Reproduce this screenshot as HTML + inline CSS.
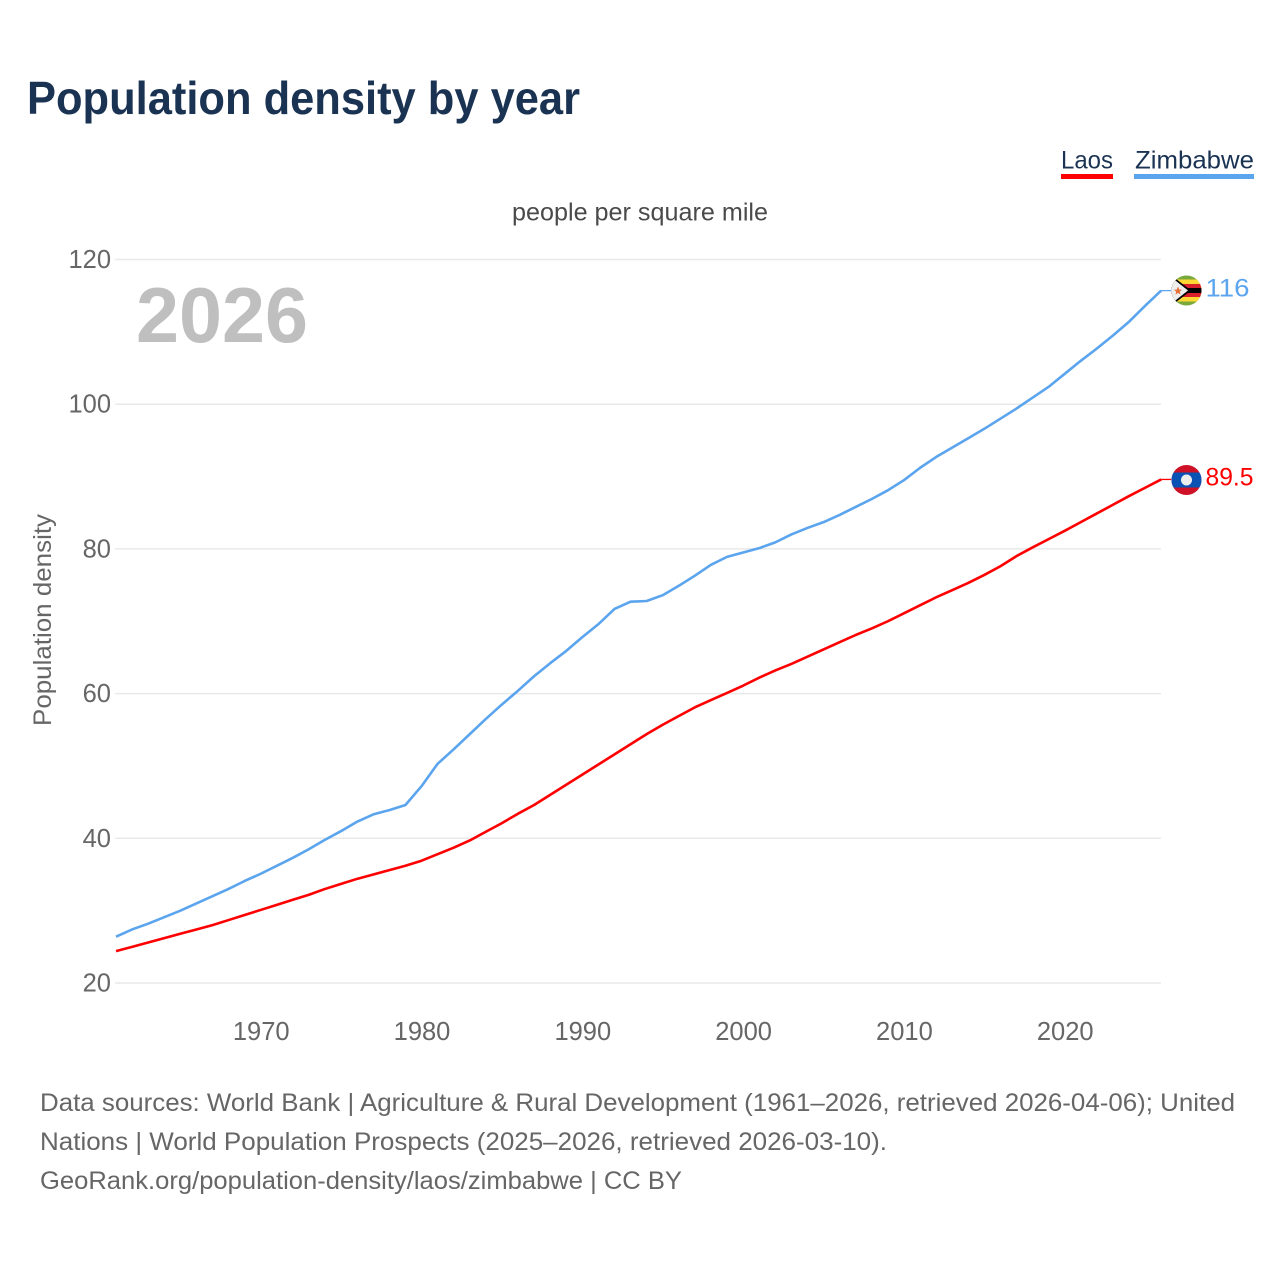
<!DOCTYPE html>
<html lang="en">
<head>
<meta charset="utf-8">
<title>Population density by year</title>
<style>
html,body{margin:0;padding:0;background:#fff;width:1280px;height:1280px;overflow:hidden}
svg{display:block}
text{font-family:"Liberation Sans",sans-serif}
</style>
</head>
<body>
<svg id="chart" xmlns="http://www.w3.org/2000/svg" width="1280" height="1280" viewBox="0 0 1280 1280">
  <defs>
    <clipPath id="clip-zim"><circle cx="1186.5" cy="290.5" r="15"/></clipPath>
    <clipPath id="clip-laos"><circle cx="1186.5" cy="480" r="15"/></clipPath>
  </defs>
  <rect x="0" y="0" width="1280" height="1280" fill="#fff"/>
  <text x="27" y="114" font-size="46" font-weight="700" fill="#1a3353" textLength="553" lengthAdjust="spacingAndGlyphs">Population density by year</text>

  <g>
    <g>
      <text x="1061" y="168.5" font-size="25" fill="#1a3353" textLength="52" lengthAdjust="spacingAndGlyphs">Laos</text>
      <rect x="1061" y="174" width="52" height="5" fill="#ff0000"/>
    </g>
    <g>
      <text x="1135" y="168.5" font-size="25" fill="#1a3353" textLength="119" lengthAdjust="spacingAndGlyphs">Zimbabwe</text>
      <rect x="1134" y="174" width="120" height="5" fill="#5ba4ee"/>
    </g>
  </g>

  <text x="512" y="220.5" font-size="25" fill="#4a4a4a" textLength="256" lengthAdjust="spacingAndGlyphs">people per square mile</text>

  <g id="grid"></g>
  <g id="yticks"></g>
  <g id="xticks"></g>

  <text transform="translate(51,620) rotate(-90)" text-anchor="middle" font-size="25" fill="#666666" textLength="212" lengthAdjust="spacingAndGlyphs">Population density</text>

  <text x="136" y="342" font-size="78" font-weight="700" fill="#bfbfbf" textLength="172" lengthAdjust="spacingAndGlyphs">2026</text>

  <g id="series"></g>

  <g clip-path="url(#clip-zim)">
    <rect x="1171" y="275" width="32" height="31" fill="#79a83b"/>
    <rect x="1171" y="279.5" width="32" height="22" fill="#fdd835"/>
    <rect x="1171" y="284" width="32" height="13" fill="#d8202c"/>
    <rect x="1171" y="288" width="32" height="5" fill="#000"/>
    <polygon points="1171,275 1191,290.5 1171,306" fill="#000"/>
    <polygon points="1171,277 1188,290.5 1171,304" fill="#eeeeee"/>
    <polygon points="1178,286.5 1179.2,289.5 1182,289.8 1179.8,291.8 1180.5,294.5 1178,293 1175.5,294.5 1176.2,291.8 1174,289.8 1176.8,289.5" fill="#e8703a"/>
  </g>
  <g clip-path="url(#clip-laos)">
    <rect x="1171" y="464" width="32" height="32" fill="#ce1126"/>
    <rect x="1171" y="472.5" width="32" height="15" fill="#0b52b5"/>
    <circle cx="1186.5" cy="480" r="5.5" fill="#eeeeee"/>
  </g>
  <text id="end-label-zimbabwe" x="1205.5" y="296.5" font-size="25" fill="#5ba4ee" textLength="44" lengthAdjust="spacingAndGlyphs">116</text>
  <text id="end-label-laos" x="1205.5" y="485.5" font-size="25" fill="#ff0000" textLength="48" lengthAdjust="spacingAndGlyphs">89.5</text>

  <g>
    <text x="40" y="1111" font-size="25" fill="#666666" textLength="1195" lengthAdjust="spacingAndGlyphs">Data sources: World Bank | Agriculture &amp; Rural Development (1961–2026, retrieved 2026-04-06); United</text>
    <text x="40" y="1150" font-size="25" fill="#666666" textLength="847" lengthAdjust="spacingAndGlyphs">Nations | World Population Prospects (2025–2026, retrieved 2026-03-10).</text>
    <text x="40" y="1189" font-size="25" fill="#666666" textLength="642" lengthAdjust="spacingAndGlyphs">GeoRank.org/population-density/laos/zimbabwe | CC BY</text>
  </g>
</svg>
<script>
const startYear = 1961;
const yTickLabels = [20, 40, 60, 80, 100, 120];
const xTickLabels = [1970, 1980, 1990, 2000, 2010, 2020];
const laosValues = [24.4,25.0,25.6,26.2,26.8,27.4,28.0,28.7,29.4,30.1,30.8,31.5,32.2,33.0,33.7,34.4,35.0,35.6,36.2,36.9,37.8,38.7,39.7,40.9,42.1,43.4,44.6,46.0,47.4,48.8,50.2,51.6,53.0,54.4,55.7,56.9,58.1,59.1,60.1,61.1,62.2,63.2,64.1,65.1,66.1,67.1,68.1,69.0,70.0,71.1,72.2,73.3,74.3,75.3,76.4,77.6,79.0,80.2,81.35,82.5,83.7,84.9,86.1,87.3,88.45,89.6];
const zimbabweValues = [26.4,27.4,28.2,29.1,30.0,31.0,32.0,33.0,34.1,35.1,36.2,37.3,38.5,39.8,41.0,42.3,43.3,43.9,44.6,47.2,50.3,52.3,54.4,56.5,58.5,60.4,62.4,64.2,65.9,67.8,69.6,71.7,72.7,72.8,73.6,74.9,76.3,77.8,78.9,79.5,80.1,80.9,82.0,82.9,83.7,84.7,85.8,86.9,88.1,89.5,91.2,92.7,94.0,95.3,96.6,98.0,99.4,100.9,102.4,104.2,106.0,107.7,109.5,111.4,113.6,115.7];

const NS = 'http://www.w3.org/2000/svg';
function xScale(year) { return 116 + (year - startYear) * 16.08; }
function yScale(v) { return 983 - (v - 20) * 7.235; }
function make(tag, attrs, parent) {
  const el = document.createElementNS(NS, tag);
  for (const k in attrs) el.setAttribute(k, attrs[k]);
  parent.appendChild(el);
  return el;
}
const grid = document.getElementById('grid');
const yticks = document.getElementById('yticks');
const xticks = document.getElementById('xticks');
const series = document.getElementById('series');

yTickLabels.forEach(function (t) {
  const line = make('line', { x1: 115, x2: 1161, y1: yScale(t), y2: yScale(t), stroke: '#e9e9e9', 'stroke-width': 1.5 }, grid);
  
  
  const label = make('text', { x: 111, y: yScale(t) + 8.5, 'text-anchor': 'end', 'font-size': 25.5, fill: '#666666' }, yticks);
  
  
  label.textContent = t;
});

xTickLabels.forEach(function (t) {
  const label = make('text', { x: xScale(t) + 0.5, y: 1040, 'text-anchor': 'middle', 'font-size': 25.5, fill: '#666666' }, xticks);
  
  
  label.textContent = t;
});

function drawLine(values, color, name) {
  const pts = values.map(function (v, i) { return xScale(startYear + i).toFixed(2) + ',' + yScale(v).toFixed(2); });
  const path = make('polyline', { points: pts.join(' '), fill: 'none', stroke: color, 'stroke-width': 2.6, 'stroke-linejoin': 'round' }, series);
  
  
  const lastY = yScale(values[values.length - 1]);
  const lastX = xScale(startYear + values.length - 1);
  const conn = make('line', { x1: lastX, x2: lastX + 10, y1: lastY, y2: lastY, stroke: color, 'stroke-width': 1.3 }, series);
  
  
}
drawLine(laosValues, '#ff0000', 'line-laos');
drawLine(zimbabweValues, '#5ba4ee', 'line-zimbabwe');
</script>
</body>
</html>
